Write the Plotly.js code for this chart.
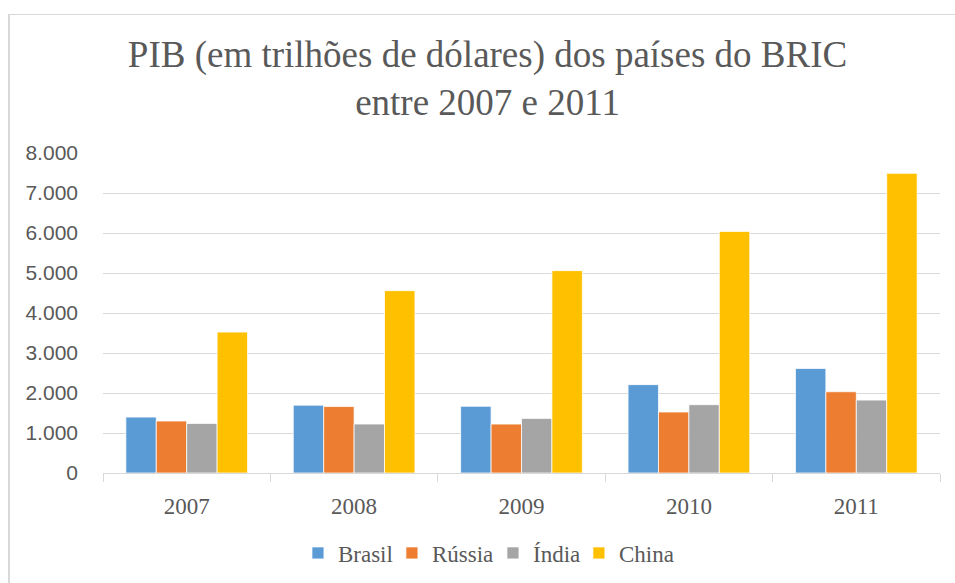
<!DOCTYPE html>
<html>
<head>
<meta charset="utf-8">
<script src="https://cdn.plot.ly/plotly-3.0.1.min.js"></script>
<style>
  html, body { margin: 0; padding: 0; background: #fff; }
  #chart { width: 955px; height: 583px; position: relative; }
  #frame { position: absolute; left: 8px; top: 14px; width: 960px; height: 600px;
           border-left: 2px solid #d9d9d9; border-top: 1px solid #d9d9d9; pointer-events: none; }
</style>
</head>
<body>
<div id="chart"></div>
<div id="frame"></div>
<script>
const years = ['2007', '2008', '2009', '2010', '2011'];
const brasil = [1397, 1696, 1667, 2209, 2613];
const russia = [1300, 1661, 1223, 1525, 2031];
const india  = [1239, 1224, 1365, 1708, 1823];
const china  = [3523, 4558, 5059, 6040, 7492];

const seriesNames = ['Brasil', 'Rússia', 'Índia', 'China'];
const seriesValues = [brasil, russia, india, china];
const seriesColors = ['#5B9BD5', '#ED7D31', '#A5A5A5', '#FFC000'];
const legendIds = ['legend', 'legend2', 'legend3', 'legend4'];
const legendX = [0.3120, 0.4104, 0.5162, 0.6062];

const traces = seriesNames.map((name, i) => ({
  type: 'bar',
  name: name,
  x: years,
  y: seriesValues[i],
  legend: legendIds[i],
  marker: { color: seriesColors[i], line: { color: '#ffffff', width: 0.75 } },
  hoverinfo: 'x+y+name'
}));

const legendFont = { family: 'Liberation Serif, Times New Roman, serif', size: 23, color: '#595959' };

const layout = {
  width: 955,
  height: 583,
  margin: { l: 103, r: 15, t: 153, b: 110 },
  paper_bgcolor: 'rgba(0,0,0,0)',
  plot_bgcolor: '#ffffff',
  separators: ',.',
  barmode: 'group',
  bargap: 0.273,
  bargroupgap: 0,
  title: {
    text: 'PIB (em trilhões de dólares) dos países do BRIC<br>entre 2007 e 2011',
    font: { family: 'Liberation Serif, Times New Roman, serif', size: 37, color: '#595959' },
    x: 0.5105, xref: 'container', xanchor: 'center',
    y: 0.8851, yref: 'container', yanchor: 'middle'
  },
  xaxis: {
    type: 'category',
    showline: true, linecolor: '#d9d9d9', linewidth: 1,
    showgrid: false,
    ticks: 'outside', tickson: 'boundaries', ticklen: 8, tickcolor: '#d9d9d9',
    ticklabelstandoff: 12,
    tickfont: { family: 'Liberation Serif, Times New Roman, serif', size: 23, color: '#595959' }
  },
  yaxis: {
    range: [0, 8000], dtick: 1000, tick0: 0,
    tickformat: ',d',
    showgrid: true, gridcolor: '#d9d9d9', gridwidth: 1,
    zeroline: false, showline: false, ticks: '',
    ticklabelstandoff: 24,
    tickfont: { family: 'Liberation Sans, Arial, sans-serif', size: 21, color: '#595959' }
  },
  showlegend: true
};

legendIds.forEach((id, i) => {
  layout[id] = {
    orientation: 'h',
    xref: 'container', yref: 'container',
    x: legendX[i], xanchor: 'left',
    y: 0.0515, yanchor: 'middle',
    bgcolor: 'rgba(0,0,0,0)',
    font: legendFont,
    itemclick: false, itemdoubleclick: false
  };
});

Plotly.newPlot('chart', traces, layout, { displayModeBar: false });
</script>
</body>
</html>
